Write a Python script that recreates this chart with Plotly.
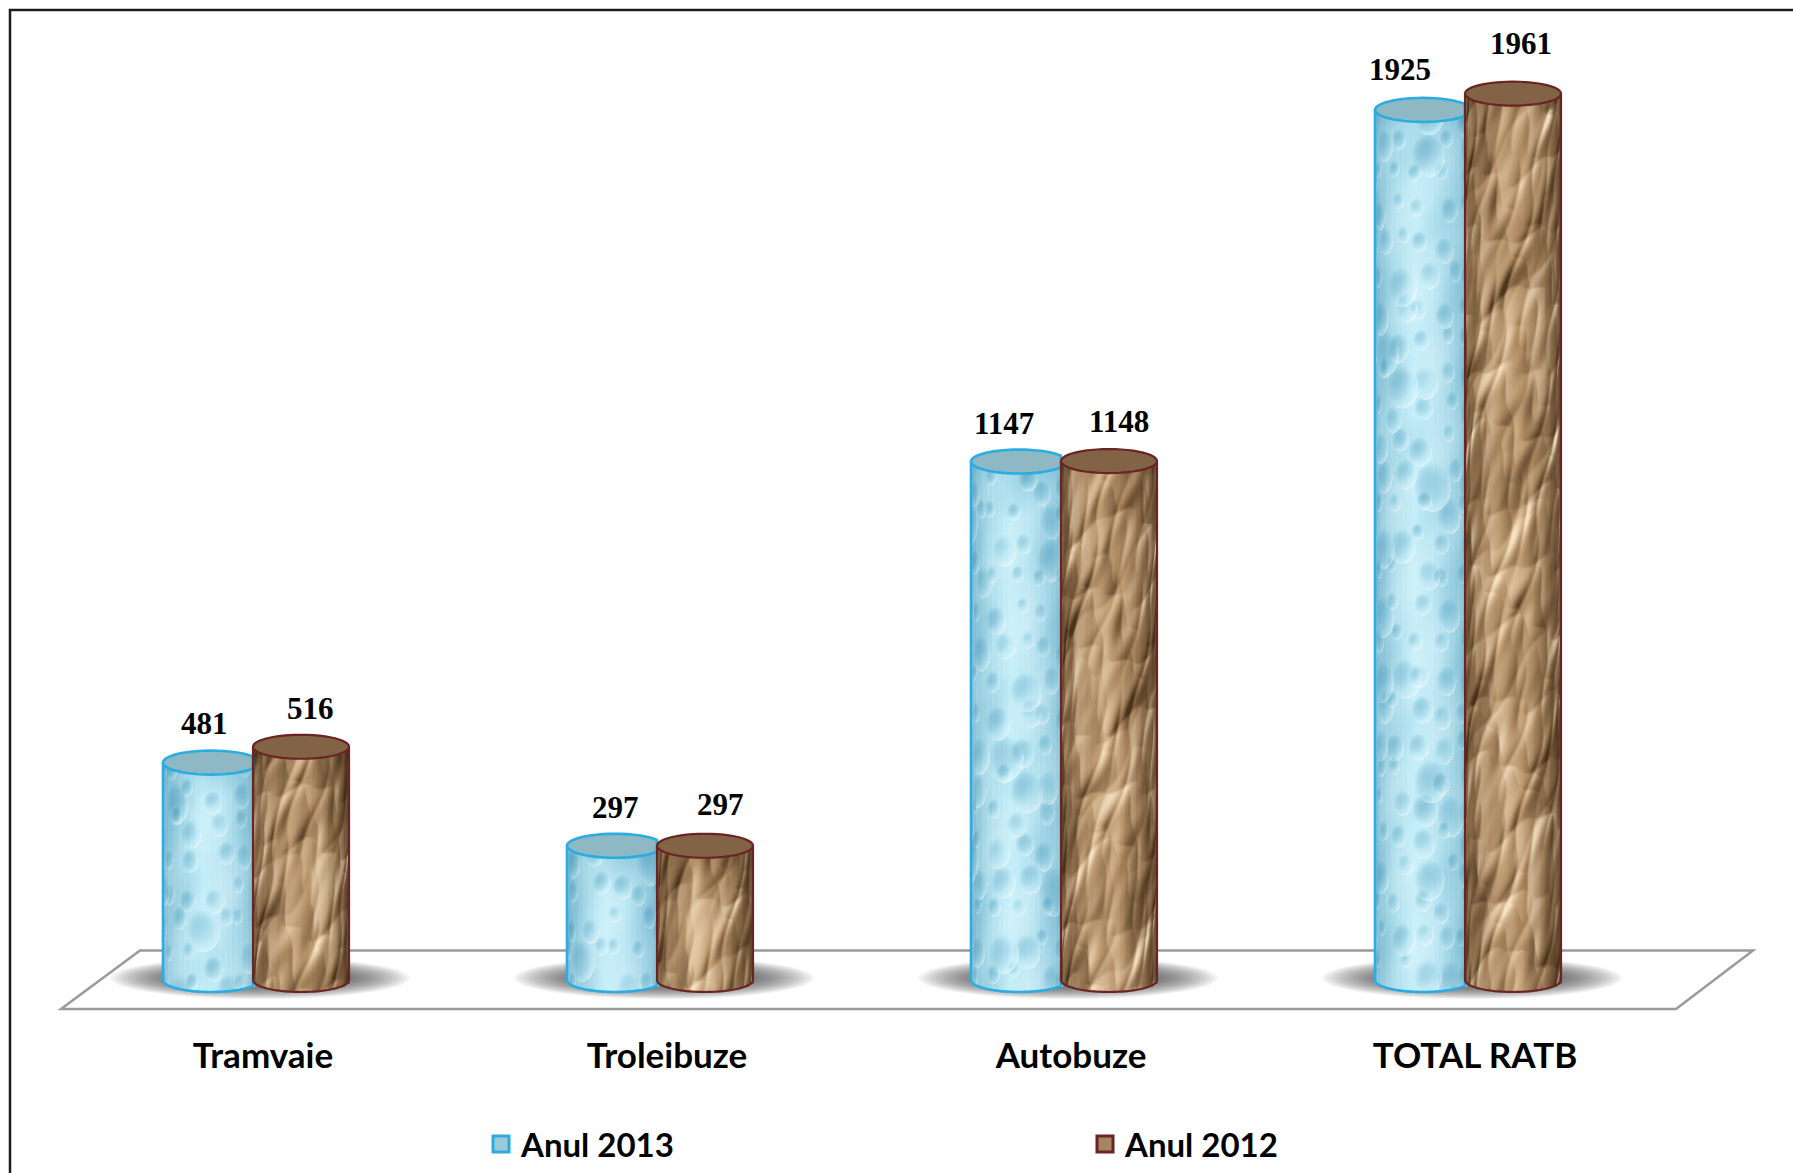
import base64
import math
import struct
import zlib

import numpy as np
import plotly.graph_objects as go

# ---- data ----
categories = ["Tramvaie", "Troleibuze", "Autobuze", "TOTAL RATB"]
anul_2013 = [481, 297, 1147, 1925]
anul_2012 = [516, 297, 1148, 1961]
series_names = ["Anul 2013", "Anul 2012"]

# ---- label nudges (pixels) ----
dx_2013 = [-7, 0, -15, -23]
dx_2012 = [9, 15, 10, 8]
dy_2013 = [39, 38, 38, 40]
dy_2012 = [38, 41, 40, 50]

# ---- page geometry ----
W, H = 1793, 1173
L, R, T, B = 61, 1677, 10, 1009
Y0 = 980
PX_PER_UNIT = 0.452
CAT_PX = (R - L) / 4
ymax = (Y0 - T) / PX_PER_UNIT
ymin = (Y0 - B) / PX_PER_UNIT
bar_w = 96 / CAT_PX
off_a = (163 - 263) / CAT_PX
off_b = (253 - 263) / CAT_PX
ell_px = 12
ell_h = ell_px / PX_PER_UNIT
FONT_NUM = "Liberation Serif"
FONT_TXT = "Lato, Liberation Sans"


def px(x):
    return (x - L) / (R - L)


def py(y):
    return (B - y) / (B - T)


def lerp_hex(stops, t):
    t = max(0, min(1, t)) * (len(stops) - 1)
    i = min(int(t), len(stops) - 2)
    f = t - i
    a, b = stops[i], stops[i + 1]
    c = [round(int(a[j:j + 2], 16) * (1 - f) + int(b[j:j + 2], 16) * f) for j in (1, 3, 5)]
    return "rgb(%d,%d,%d)" % tuple(c)


def png_uri(rgba):
    h, w, _ = rgba.shape
    raw = b"".join(b"\x00" + rgba[r].tobytes() for r in range(h))

    def chunk(tag, data):
        return struct.pack(">I", len(data)) + tag + data + struct.pack(">I", zlib.crc32(tag + data))

    png = b"\x89PNG\r\n\x1a\n" + chunk(b"IHDR", struct.pack(">IIBBBBB", w, h, 8, 6, 0, 0, 0)) + \
        chunk(b"IDAT", zlib.compress(raw, 6)) + chunk(b"IEND", b"")
    return "data:image/png;base64," + base64.b64encode(png).decode()


def surface_coords(w, h, seed):
    yy, xx = np.mgrid[0:h, 0:w].astype(float)
    u = np.clip((xx + 0.5) / 96 * 2 - 1, -0.999, 0.999)
    xc = 48 * np.arcsin(u) * 1.25 + seed * 37.0
    return xx, yy, u, xc, yy + seed * 53.0


def crumple_texture(w, h, seed):
    """Folded-paper overlay: ridged waves lit from one side."""
    xx, yy, u, X, Y = surface_coords(w, h, seed)

    def field(x, y):
        warp = 9 * np.sin(x / 19 + y / 47) + 7 * np.sin(y / 27 - x / 31) + 4 * np.sin(x / 7 + y / 11)
        f = np.zeros_like(x)
        for amp, theta, wl, ph in [(1.0, 0.7, 38, 0.3), (0.9, 2.4, 31, 1.7), (0.6, 1.5, 21, 4.1),
                                   (0.5, 2.9, 15, 2.2), (0.35, 0.2, 9, 5.3)]:
            f += amp * np.abs(np.sin((x * math.cos(theta) + y * math.sin(theta) + warp) / wl + ph))
        return f

    shade = (field(X + 1.5, Y + 1.5) - field(X - 1.5, Y - 1.5)) * 1.6
    shade += 0.18 * np.sin(X / 41 + Y / 97) * np.sin(Y / 63 - X / 29) + 0.08
    shade -= 0.35 * np.abs(u) ** 3
    return shade, (255, 236, 205), (62, 40, 18)


def bubble_texture(w, h, seed):
    """Water-drop overlay: discs with a bright rim, lit from the lower right."""
    xx, yy, u, X, Y = surface_coords(w, h, seed)
    shade = np.zeros((h, w))
    step = 33
    for j in range(int(Y.min() // step) - 1, int(Y.max() // step) + 2):
        for i in range(int(X.min() // step) - 1, int(X.max() // step) + 2):
            hash1 = math.sin(i * 12.9898 + j * 78.233) * 43758.5453
            hash2 = math.sin(i * 39.346 + j * 11.135) * 24634.6345
            r1, r2 = hash1 - math.floor(hash1), hash2 - math.floor(hash2)
            cx = (i + 0.5 + (r1 - 0.5) * 0.7) * step
            cy = (j + 0.5 + (r2 - 0.5) * 0.7) * step
            r = 8 + 15 * r1 * r2 + 3 * r2
            dx, dy = (X - cx) / r, (Y - cy) / r
            d = np.sqrt(dx * dx + dy * dy)
            inside = d < 1
            lit = (dx * 0.6 + dy * 0.8)
            val = -0.38 * (1 - d * d) * (0.8 - lit) + 0.55 * np.clip(lit, 0, 1) * d ** 4
            shade[inside] += val[inside]
    shade += 0.16 * np.sin(X / 17 + Y / 43) * np.sin(Y / 23) + 0.06
    shade -= 0.30 * np.abs(u) ** 4
    return shade, (255, 255, 255), (70, 150, 185)


def texture_uri(tex, full_h, crop_w, seed):
    h = full_h + ell_px
    shade, light, dark = tex(crop_w, h, seed)
    yy, xx = np.mgrid[0:h, 0:crop_w].astype(float)
    u = np.clip((xx + 0.5) / 96 * 2 - 1, -1, 1)
    shade = shade - 0.40 * np.exp(-yy / 28)          # dimming under the cap
    limit = full_h + ell_px * np.sqrt(1 - u * u)
    mask = np.clip(limit - yy, 0, 1)
    out = np.zeros((h, crop_w, 4), dtype=np.uint8)
    pos = shade > 0
    for c in range(3):
        out[..., c] = np.where(pos, light[c], dark[c])
    out[..., 3] = (np.clip(np.abs(shade), 0, 1) * 225 * mask).astype(np.uint8)
    return png_uri(out)


blue_stops = ["#93c7d9", "#aedeec", "#c6eef8", "#bde8f4", "#a3d6e6", "#8ac1d5"]
brown_stops = ["#866849", "#a98762", "#bb9870", "#b38f67", "#9a7a56", "#75593d"]
blue_line, brown_line = "#2bace2", "#6a2424"
blue_top, brown_top = "#8db8c4", "#826346"

fig = go.Figure()
N = 18


def add_body(values, off, stops, name):
    for k in range(N):
        u = (k + 0.5) / N * 2 - 1
        dy = ell_h * math.sqrt(1 - u * u)
        fig.add_trace(go.Bar(
            x=list(range(len(values))), y=[v + dy for v in values], base=-dy,
            offset=off + k * bar_w / N, width=bar_w / N * 1.2,
            marker=dict(color=lerp_hex(stops, (k + 0.5) / N), line=dict(width=0)),
            showlegend=False, hoverinfo="skip", name=name))


add_body(anul_2013, off_a, blue_stops, series_names[0])
add_body(anul_2012, off_b, brown_stops, series_names[1])

# legend carriers
for nm, fill, ln, lg in [(series_names[0], "#9ccbd8", blue_line, "legend"),
                         (series_names[1], "#a58660", brown_line, "legend2")]:
    fig.add_trace(go.Scatter(x=[None], y=[None], mode="markers", name=nm, legend=lg,
                             marker=dict(symbol="square", size=16, color=fill,
                                         line=dict(color=ln, width=3))))

shapes = []
images = []
# outer frame: top and left rules
shapes.append(dict(type="path", xref="paper", yref="paper", layer="below",
                   path=f"M {px(10)} {py(H + 2)} L {px(10)} {py(10)} L {px(W + 2)} {py(10)}",
                   line=dict(color="#1c1c1c", width=2.5)))
# floor
shapes.append(dict(type="path", xref="paper", yref="paper", layer="below",
                   path=f"M {px(61)} {py(1009)} L {px(140)} {py(950.5)} L {px(1753)} {py(950.5)} "
                        f"L {px(1676)} {py(1009)} Z",
                   fillcolor="white", line=dict(color="#9a9a9a", width=2.5)))


def ellipse_path(cx, cy, rx, ry, xmax=None, t0=0, t1=2 * math.pi, close=True, n=48):
    pts = []
    for k in range(n + 1):
        t = t0 + (t1 - t0) * k / n
        x = cx + rx * math.cos(t)
        if xmax is not None:
            x = min(x, xmax)
        pts.append((x, cy + ry * math.sin(t)))
    return "M " + " L ".join(f"{a:.5f} {b:.3f}" for a, b in pts) + (" Z" if close else "")


# soft floor shadows
for i in range(len(categories)):
    cx = i + (off_a + off_b + bar_w) / 2 + 4 / CAT_PX
    for g in range(18):
        rx = (150 - g * 3.6) / CAT_PX
        ry = (21 - g * 0.7) / PX_PER_UNIT
        cy = 2 / PX_PER_UNIT
        shapes.append(dict(type="circle", xref="x", yref="y", layer="below",
                           x0=cx - rx, x1=cx + rx, y0=cy - ry, y1=cy + ry,
                           fillcolor="rgba(50,50,50,0.055)", line=dict(width=0)))

# cylinder caps, outlines and surface textures
for i, (va, vb) in enumerate(zip(anul_2013, anul_2012)):
    for s, (v, off, cap, ln, cut, tex) in enumerate([
            (va, off_a, blue_top, blue_line, i + off_b, bubble_texture),
            (vb, off_b, brown_top, brown_line, None, crumple_texture)]):
        left = i + off
        right = left + bar_w
        cx = (left + right) / 2
        rx = bar_w / 2
        lw = 2.6 if ln == blue_line else 2.2
        xr = right if cut is None else min(right, cut)
        crop_w = round((xr - left) * CAT_PX)
        images.append(dict(source=texture_uri(tex, round(v * PX_PER_UNIT), crop_w, i + 1 + s * 5),
                           xref="x", yref="y", x=left, y=v, sizex=xr - left, sizey=v + ell_h,
                           xanchor="left", yanchor="top", sizing="stretch", layer="above"))
        sides = f"M {left:.5f} {v:.3f} L {left:.5f} 0 " + \
                ellipse_path(cx, 0, rx, ell_h, xmax=xr, t0=math.pi, t1=2 * math.pi, close=False).replace("M ", "L ", 1)
        if cut is None:
            sides += f" L {right:.5f} {v:.3f}"
        shapes.append(dict(type="path", xref="x", yref="y", path=sides, layer="above",
                           line=dict(color=ln, width=lw)))
        shapes.append(dict(type="path", xref="x", yref="y", layer="above",
                           path=ellipse_path(cx, v, rx, ell_h, xmax=cut),
                           fillcolor=cap, line=dict(color=ln, width=lw)))

annotations = []
for i in range(len(categories)):
    for v, off, dx, dy in [(anul_2013[i], off_a, dx_2013[i], dy_2013[i]),
                           (anul_2012[i], off_b, dx_2012[i], dy_2012[i])]:
        annotations.append(dict(x=i + off + bar_w / 2, y=v, xref="x", yref="y", text=str(v),
                                showarrow=False, xshift=dx, yshift=dy, yanchor="middle",
                                font=dict(family=FONT_NUM, size=31, color="#000000", weight="bold")))

legend_font = dict(family=FONT_TXT, size=33, color="#000000", weight="bold")
fig.update_layout(
    width=W, height=H, paper_bgcolor="white", plot_bgcolor="rgba(0,0,0,0)",
    margin=dict(l=L, r=W - R, t=T, b=H - B, pad=0, autoexpand=False),
    barmode="overlay", bargap=0, shapes=shapes, annotations=annotations, images=images,
    xaxis=dict(range=[-0.5, 3.5], tickmode="array", tickvals=list(range(len(categories))),
               ticktext=categories, showgrid=False, zeroline=False, showline=False, ticks="",
               ticklabelstandoff=23, fixedrange=True,
               tickfont=dict(family=FONT_TXT, size=35, color="#000000", weight="bold")),
    yaxis=dict(range=[ymin, ymax], visible=False, fixedrange=True),
    legend=dict(x=px(481), y=py(1144), xanchor="left", yanchor="middle", font=legend_font,
                bgcolor="rgba(0,0,0,0)", itemsizing="trace", itemclick=False),
    legend2=dict(x=px(1085), y=py(1144), xanchor="left", yanchor="middle", font=legend_font,
                 bgcolor="rgba(0,0,0,0)", itemsizing="trace", itemclick=False),
)

fig.write_html("out.html", config=dict(displayModeBar=False),
               post_script="document.body.style.margin='0';document.body.style.overflow='hidden';")
